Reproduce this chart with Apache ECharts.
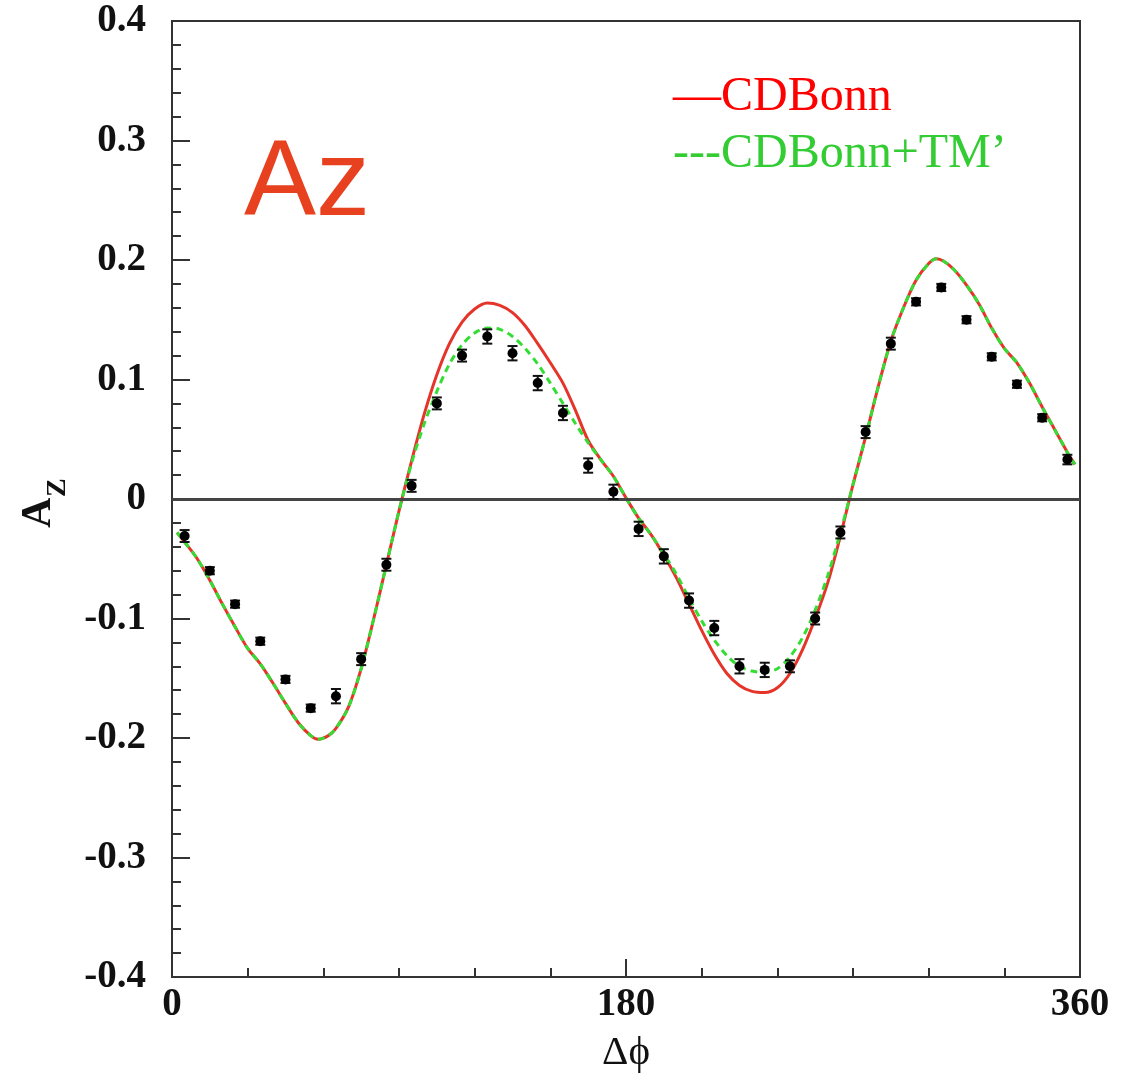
<!DOCTYPE html>
<html>
<head>
<meta charset="utf-8">
<script src="https://cdn.jsdelivr.net/npm/echarts@6/dist/echarts.min.js"></script>
<style>html,body{margin:0;padding:0;background:#fff;}#chart{width:1128px;height:1079px;}</style>
</head>
<body>
<div id="chart"></div>
<script>
// ---- data ----
var dataX = [5,15,25,35,45,55,65,75,85,95,105,115,125,135,145,155,165,175,185,195,205,215,225,235,245,255,265,275,285,295,305,315,325,335,345,355];
var dataY = [-0.031,-0.060,-0.088,-0.119,-0.151,-0.175,-0.165,-0.134,-0.055,0.011,0.080,0.120,0.136,0.122,0.097,0.072,0.028,0.006,-0.025,-0.048,-0.085,-0.108,-0.140,-0.143,-0.140,-0.100,-0.028,0.056,0.130,0.165,0.177,0.150,0.119,0.096,0.068,0.033];
var dataErr = [0.005,0.003,0.003,0.003,0.003,0.003,0.006,0.005,0.005,0.005,0.005,0.005,0.006,0.006,0.006,0.006,0.006,0.006,0.006,0.006,0.006,0.006,0.006,0.006,0.005,0.005,0.005,0.005,0.005,0.003,0.003,0.003,0.003,0.003,0.003,0.004];

var curveX = [2,5,10,15,20,25,30,35,40,45,50,55,58,62,65,70,75,80,85,90,95,100,105,110,115,120,125,130,135,140,145,150,155,160,165,170,175,180,185,190,195,200,205,210,215,220,225,230,235,240,245,250,255,260,265,270,275,280,285,290,295,300,303,306,310,315,320,325,330,335,340,345,350,355,358];
var cdBonn = [-0.028,-0.036,-0.050,-0.068,-0.088,-0.107,-0.125,-0.138,-0.154,-0.171,-0.187,-0.198,-0.201,-0.198,-0.192,-0.174,-0.142,-0.100,-0.055,-0.010,
  0.032,0.071,0.104,0.130,0.148,0.159,0.164,0.162,0.156,0.145,0.130,0.114,0.097,0.074,0.049,0.033,0.019,0.001,
  -0.016,-0.030,-0.047,-0.066,-0.088,-0.110,-0.130,-0.146,-0.156,-0.161,-0.162,-0.158,-0.146,-0.126,-0.100,-0.070,-0.031,
  0.012,0.052,0.094,0.132,0.160,0.183,0.197,0.201,0.199,0.192,0.179,0.163,0.143,0.126,0.114,0.097,0.077,0.058,0.039,0.029];
var cdBonnTM = [-0.028,-0.036,-0.050,-0.068,-0.088,-0.107,-0.125,-0.138,-0.154,-0.171,-0.187,-0.198,-0.201,-0.198,-0.192,-0.174,-0.142,-0.100,-0.055,-0.010,
  0.030,0.063,0.090,0.113,0.129,0.139,0.143,0.142,0.136,0.126,0.113,0.097,0.080,0.063,0.047,0.033,0.019,0.001,
  -0.016,-0.030,-0.046,-0.063,-0.083,-0.102,-0.118,-0.131,-0.140,-0.144,-0.145,-0.142,-0.132,-0.116,-0.093,-0.064,-0.028,
  0.012,0.052,0.094,0.132,0.160,0.183,0.197,0.201,0.199,0.192,0.179,0.163,0.143,0.126,0.114,0.097,0.077,0.058,0.039,0.029];

var xTickLabels = ['0','180','360'];
var yTickLabels = ['-0.4','-0.3','-0.2','-0.1','0','0.1','0.2','0.3','0.4'];
var legendLabels = ['\u2014CDBonn', '---CDBonn+TM\u2019'];
var panelLabel = 'Az';

// ---- chart ----
function pairs(xs, ys){ return xs.map(function(x,i){ return [x, ys[i]]; }); }
var axisColor = '#333';
var tickFont = {fontFamily:'"Liberation Serif", "DejaVu Serif", serif', fontWeight:'bold', fontSize:39, color:'#111'};

var chart = echarts.init(document.getElementById('chart'), null, {renderer:'canvas'});
chart.setOption({
  animation:false,
  backgroundColor:'#fff',
  grid:{left:172, right:48, top:21, bottom:100, show:true, borderColor:axisColor, borderWidth:2, backgroundColor:'transparent'},
  xAxis:{
    type:'value', min:0, max:360, interval:180,
    name:'\u0394\u03d5', nameLocation:'middle', nameGap:56,
    nameTextStyle:{fontFamily:'"Liberation Serif", "DejaVu Serif", serif', fontSize:41, color:'#111'},
    axisLine:{show:true, onZero:false, lineStyle:{color:axisColor, width:2}},
    axisTick:{show:true, inside:true, length:18, lineStyle:{color:axisColor, width:2}},
    minorTick:{show:true, splitNumber:6, length:9, lineStyle:{color:axisColor, width:2}},
    splitLine:{show:false},
    axisLabel:Object.assign({margin:8, formatter:function(v){ return xTickLabels[Math.round(v/180)]; }}, tickFont)
  },
  yAxis:{
    type:'value', min:-0.4, max:0.4, interval:0.1,
    axisLine:{show:true, lineStyle:{color:axisColor, width:2}},
    axisTick:{show:true, inside:true, length:18, lineStyle:{color:axisColor, width:2}},
    minorTick:{show:true, splitNumber:5, length:9, lineStyle:{color:axisColor, width:2}},
    splitLine:{show:false},
    axisLabel:Object.assign({margin:26, formatter:function(v){ return yTickLabels[Math.round((v+0.4)*10)]; }}, tickFont)
  },
  graphic:[
    {type:'text', x:673, y:97, style:{text:legendLabels[0], font:'48px "Liberation Serif"', fill:'#ff0000', textVerticalAlign:'middle', verticalAlign:'middle'}},
    {type:'text', x:673, y:154, style:{text:legendLabels[1], font:'48px "Liberation Serif"', fill:'#33cc33', textVerticalAlign:'middle', verticalAlign:'middle'}},
    {type:'text', x:244, y:185, style:{text:panelLabel, font:'108px "Liberation Sans"', fill:'#e8411f', textVerticalAlign:'middle', verticalAlign:'middle'}},
    {type:'group', x:52, y:500, rotation:Math.PI/2, children:[
      {type:'text', x:-28, y:8, style:{text:'A', font:'bold 42px "Liberation Serif"', fill:'#111', verticalAlign:'bottom', textVerticalAlign:'bottom'}},
      {type:'text', x:3, y:20, style:{text:'Z', font:'bold 28px "Liberation Serif"', fill:'#111', verticalAlign:'bottom', textVerticalAlign:'bottom'}}
    ]}
  ],
  series:[
    {
      type:'line', name:'CDBonn', data:pairs(curveX, cdBonn), smooth:0.3, showSymbol:false,
      lineStyle:{color:'#e5352a', width:3}, z:3,
      markLine:{silent:true, symbol:'none', label:{show:false}, lineStyle:{color:'#444', width:3, type:'solid'}, data:[{yAxis:0}]}
    },
    {
      type:'line', name:'CDBonn+TM\u2019', data:pairs(curveX, cdBonnTM), smooth:0.3, showSymbol:false,
      lineStyle:{color:'#33dd33', width:3, type:[7,5]}, z:4
    },
    {
      type:'custom', name:'err',
      data:dataX.map(function(x,i){ return [x, dataY[i], dataErr[i]]; }),
      renderItem:function(params, api){
        var x = api.value(0), y = api.value(1), e = api.value(2);
        var lo = api.coord([x, y-e]), hi = api.coord([x, y+e]);
        var w = 5;
        var st = {stroke:'#111', lineWidth:2};
        return {type:'group', children:[
          {type:'line', shape:{x1:lo[0], y1:lo[1], x2:hi[0], y2:hi[1]}, style:st},
          {type:'line', shape:{x1:lo[0]-w, y1:lo[1], x2:lo[0]+w, y2:lo[1]}, style:st},
          {type:'line', shape:{x1:hi[0]-w, y1:hi[1], x2:hi[0]+w, y2:hi[1]}, style:st}
        ]};
      }, z:5
    },
    {
      type:'scatter', name:'data', data:pairs(dataX, dataY), symbol:'circle', symbolSize:10,
      itemStyle:{color:'#000', opacity:1}, z:6
    }
  ]
});
</script>
</body>
</html>
